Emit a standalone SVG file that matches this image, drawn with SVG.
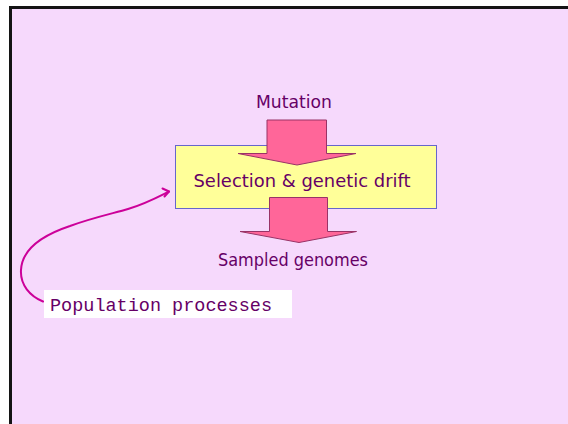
<svg xmlns="http://www.w3.org/2000/svg" width="568" height="424" viewBox="0 0 568 424">
  <style>
    .lbl { font-family: "DejaVu Sans", "Liberation Sans", sans-serif; font-size: 17px; fill: #660066; text-anchor: middle; }
    .mono { font-family: "Liberation Mono", "DejaVu Sans Mono", monospace; font-size: 18.5px; fill: #660066; }
    .flow { fill: #ff6699; stroke: #993366; stroke-width: 1; stroke-linejoin: miter; }
    .link { fill: none; stroke: #cc0099; stroke-width: 2; stroke-linecap: round; stroke-linejoin: round; }
  </style>

  <!-- page and slide frame -->
  <rect x="0" y="0" width="568" height="424" fill="#ffffff"/>
  <rect x="10.5" y="7.5" width="600" height="460" fill="#f6d9fc" stroke="#141414" stroke-width="3"/>

  <!-- central process box -->
  <g id="selection">
    <rect x="175.5" y="145.5" width="261" height="63" fill="#ffff99" stroke="#6666cc" stroke-width="1"/>
  </g>

  <g id="connectors">
    <!-- Mutation feeding into the box -->
    <path class="flow" d="M267,120 H326.5 V153.5 H356 L297,165 L238,153.5 H267 Z"/>
    <!-- box output to sampled genomes -->
    <path class="flow" d="M269.5,197.5 H327.5 V231.5 H356.5 L299,242.5 L240,231.5 H269.5 Z"/>
    <!-- curved pointer from the note -->
    <path class="link" d="M43,301.5 C30,296 20,285 21,270 C22,250 40,236 70,226 C95,217 115,213 128,209 C145,204 158,197 169,191.5"/>
    <path class="link" d="M162.5,188.5 L169,191.5 L164.5,196.5"/>
  </g>

  <g id="mutation">
    <text class="lbl" x="294" y="108" textLength="76" lengthAdjust="spacingAndGlyphs">Mutation</text>
  </g>

  <g id="selection-label">
    <text class="lbl" x="302" y="187" textLength="217" lengthAdjust="spacingAndGlyphs">Selection &amp; genetic drift</text>
  </g>

  <g id="sampled">
    <text class="lbl" x="293" y="265.5" textLength="150" lengthAdjust="spacingAndGlyphs">Sampled genomes</text>
  </g>

  <g id="population">
    <rect x="44" y="290" width="248" height="28" fill="#ffffff"/>
    <text class="mono" x="50" y="310.5" textLength="222" lengthAdjust="spacingAndGlyphs">Population processes</text>
  </g>
</svg>
